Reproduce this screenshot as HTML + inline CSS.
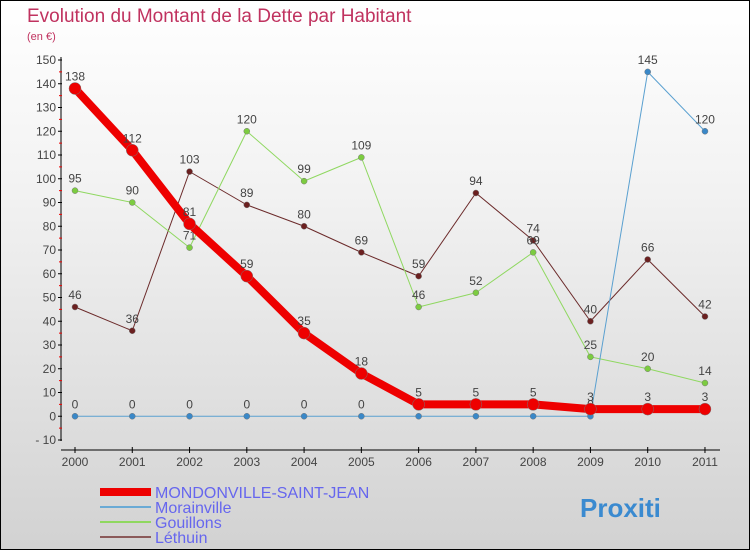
<!DOCTYPE html>
<html><head><meta charset="utf-8"><style>
body{margin:0}
#c{width:750px;height:550px;position:relative;box-sizing:border-box;border:1px solid #000;background:linear-gradient(#fff,#f2f2f2 35%,#d2d2d2);font-family:"Liberation Sans",sans-serif;overflow:hidden}
</style></head><body>
<div id="c">
<svg id="s" width="750" height="550" style="position:absolute;left:-1px;top:-1px">
<text x="27" y="22" font-size="19" fill="#c0325f">Evolution du Montant de la Dette par Habitant</text>
<text x="27" y="40" font-size="11" fill="#c0325f">(en €)</text>
</svg>
</div>
<script>
const years=[2000,2001,2002,2003,2004,2005,2006,2007,2008,2009,2010,2011];
const mondonville=[138,112,81,59,35,18,5,5,5,3,3,3];
const morainville=[0,0,0,0,0,0,0,0,0,0,145,120];
const gouillons=[95,90,71,120,99,109,46,52,69,25,20,14];
const lethuin=[46,36,103,89,80,69,59,94,74,40,66,42];
const yTicks=[-10,0,10,20,30,40,50,60,70,80,90,100,110,120,130,140,150];
const names=["MONDONVILLE-SAINT-JEAN","Morainville","Gouillons","Léthuin"];
const NS="http://www.w3.org/2000/svg",s=document.getElementById('s');
const X=i=>75+i*57.27, Y=v=>416.25-v*2.375;
function el(t,a,p){const e=document.createElementNS(NS,t);for(const k in a)e.setAttribute(k,a[k]);(p||s).appendChild(e);return e;}
let ax=el('line',{x1:61,y1:57,x2:61,y2:441,stroke:'#000'});


let xx=el('line',{x1:61,y1:450,x2:720,y2:450,stroke:'#000'});


yTicks.forEach(v=>{
 el('line',{x1:58,x2:62,y1:Y(v),y2:Y(v),stroke:'#000'});
 if(v<150) el('line',{x1:59,x2:62,y1:Y(v+5),y2:Y(v+5),stroke:'#e00'});
 let t=el('text',{x:56,y:Y(v)+4,'text-anchor':'end','font-size':12,fill:'#444'});t.textContent=v<0?'- '+(-v):v;
 
 
});
years.forEach((y,i)=>{
 el('line',{x1:X(i),x2:X(i),y1:447,y2:453,stroke:'#000'});
 let t=el('text',{x:X(i),y:466,'text-anchor':'middle','font-size':12,fill:'#444'});t.textContent=y;
 
 
});
function series(d,col,dot,w,r,name){
 const g=el('g',{});
 
 
 el('polyline',{points:d.map((v,i)=>X(i)+','+Y(v)).join(' '),fill:'none',stroke:col,'stroke-width':w,'stroke-linejoin':'round'},g);
 d.forEach((v,i)=>{
  const c=el('circle',{cx:X(i),cy:Y(v),r:r,fill:dot,stroke:'#777','stroke-width':0.5},g);
  
  
  const t=el('text',{x:X(i),y:Y(v)-8,'text-anchor':'middle','font-size':12,fill:'#444'},g);t.textContent=v;
 });
}
series(lethuin,'#6b2a2a','#6b2020',1,3,'series-lethuin');
series(gouillons,'#8fd860','#7ccc40',1,3,'series-gouillons');
series(morainville,'#5aa0d0','#3a88c8',1,3,'series-morainville');
series(mondonville,'#ee0000','#ee0000',8,6,'series-mondonville');
const lc=['#ee0000','#6aaad5','#8fd860','#8b5a5a'],lw=[8,2,2,2];
names.forEach((n,i)=>{
 const y=492+i*15;
 const l=el('line',{x1:100,x2:151,y1:y,y2:y,stroke:lc[i],'stroke-width':lw[i]});
 
 
 const t=el('text',{x:155,y:y+6,'font-size':16,fill:'#6666ee'});t.textContent=n;
 
 
});
const lg=el('text',{x:580,y:517,'font-size':26,'font-weight':'bold',fill:'#3a8ad0'});lg.textContent='Proxiti';


</script>
</body></html>
